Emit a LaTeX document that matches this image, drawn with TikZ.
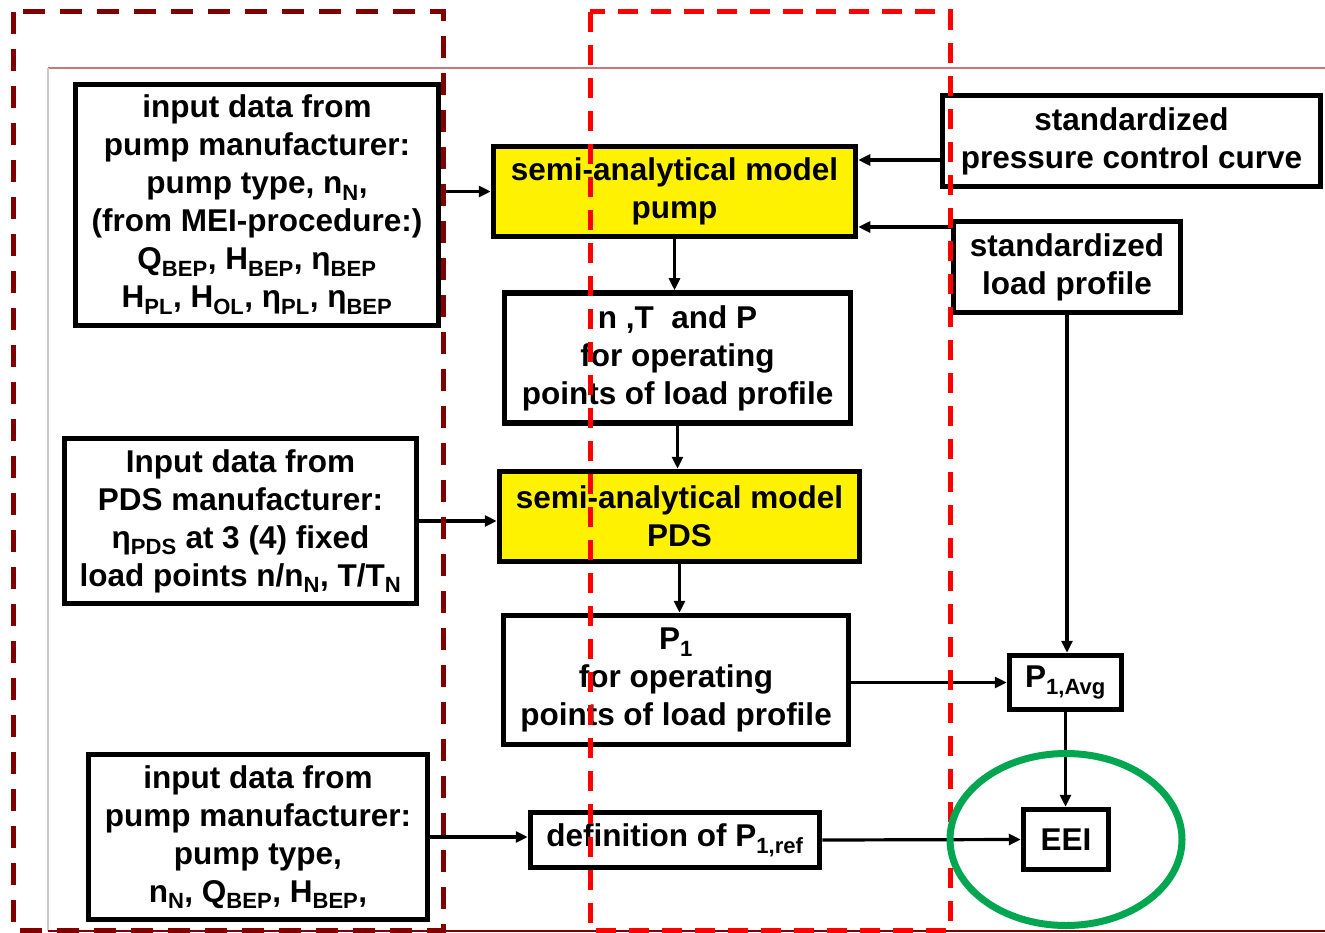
\documentclass[tikz,border=0pt]{standalone}
\usepackage{fontspec}
\setmainfont{Liberation Sans}
\usepackage{tikz}
\usetikzlibrary{arrows.meta}
\definecolor{darkframe}{RGB}{128,0,0}
\definecolor{ringgreen}{RGB}{0,166,80}
\definecolor{slideline}{RGB}{200,120,120}
\tikzstyle{Inputbox}=[shape=rectangle, fill=white, draw=black, line width=5.5pt, align=center, inner sep=0pt, text=black, font=\fontsize{31.5}{38}\selectfont\bfseries]
\tikzstyle{Modelbox}=[Inputbox, fill=yellow]
\tikzstyle{arrow}=[line width=3.2pt, -{Triangle[length=12pt,width=11pt]}]
\tikzstyle{zone}=[line width=5pt, dash pattern=on 22pt off 15pt]
\pgfdeclarelayer{boxlayer}
\pgfdeclarelayer{zonelayer}
\pgfsetlayers{boxlayer, main, zonelayer}

\begin{document}
\begin{tikzpicture}[x=1pt, y=-1pt]
	\useasboundingbox (0,0) rectangle (1325,933);
	\begin{pgfonlayer}{boxlayer}
		% slide frame
		\draw [draw=slideline, line width=2pt] (48,68) -- (1325,68);
		\draw [draw=black!20, line width=2pt] (48,68) -- (48,931);
		\draw [draw=darkframe, line width=2.5pt] (48,931) -- (1325,931);
		% manufacturer data
		\node [style=Inputbox, minimum width=363, minimum height=241] (pumpdata) at (257, 205) {input data from\\pump manufacturer:\\pump type, n\textsubscript{N},\\(from MEI-procedure:)\\Q\textsubscript{BEP}, H\textsubscript{BEP}, η\textsubscript{BEP}\\H\textsubscript{PL}, H\textsubscript{OL}, η\textsubscript{PL}, η\textsubscript{BEP}};
		\node [style=Inputbox, minimum width=352, minimum height=165] (pdsdata) at (240.5, 521) {Input data from\\PDS manufacturer:\\η\textsubscript{PDS} at 3 (4) fixed\\load points n/n\textsubscript{N}, T/T\textsubscript{N}};
		\node [style=Inputbox, minimum width=339, minimum height=165] (refdata) at (258, 837) {input data from\\pump manufacturer:\\pump type,\\n\textsubscript{N}, Q\textsubscript{BEP}, H\textsubscript{BEP},};
		% models and results
		\node [style=Modelbox, minimum width=362, minimum height=90] (pumpmodel) at (674.5, 191.5) {semi-analytical model\\pump};
		\node [style=Inputbox, minimum width=346, minimum height=130] (opoints) at (677.5, 358) {n ,T\ \ and P\\for operating\\points of load profile};
		\node [style=Modelbox, minimum width=360, minimum height=90] (pdsmodel) at (679.5, 516.5) {semi-analytical model\\PDS};
		\node [style=Inputbox, minimum width=345, minimum height=129] (powerpoints) at (676, 680) {P\textsubscript{1}\\for operating\\points of load profile};
		\node [style=Inputbox, minimum width=289, minimum height=55] (powerref) at (675, 840) {definition of P\textsubscript{1,ref}};
		% standardized inputs
		\node [style=Inputbox, minimum width=378, minimum height=91] (pressure) at (1131.5, 141) {standardized\\pressure control curve};
		\node [style=Inputbox, minimum width=227, minimum height=91] (loadprofile) at (1067, 267) {standardized\\load profile};
		\node [style=Inputbox, minimum width=112, minimum height=54] (poweravg) at (1065.5, 682.5) {P\textsubscript{1,Avg}};
		\node [style=Inputbox, minimum width=85, minimum height=60] (eei) at (1066, 839.5) {EEI};
	\end{pgfonlayer}

	\draw [style=arrow] (pumpdata.east |- pumpmodel.west) to (pumpmodel.west);
	\draw [style=arrow] ([yshift=-19pt]pressure.west) to ([yshift=-19pt]pressure.west -| pumpmodel.east);
	\draw [style=arrow] ([yshift=40pt]loadprofile.west) to ([yshift=40pt]loadprofile.west -| pumpmodel.east);
	\draw [style=arrow] (pumpmodel.south) to (pumpmodel.south |- opoints.north);
	\draw [style=arrow] (opoints.south) to (opoints.south |- pdsmodel.north);
	\draw [style=arrow] (pdsdata.east) to (pdsdata.east -| pdsmodel.west);
	\draw [style=arrow] (pdsmodel.south) to (pdsmodel.south |- powerpoints.north);
	\draw [style=arrow] (loadprofile.south) to (loadprofile.south |- poweravg.north);
	\draw [style=arrow] (poweravg.west -| powerpoints.east) to (poweravg.west);
	\draw [style=arrow] (poweravg.south) to (poweravg.south |- eei.north);
	\draw [style=arrow] (refdata.east) to (refdata.east -| powerref.west);
	\draw [style=arrow] (powerref.east) to (eei.west);

	\begin{pgfonlayer}{zonelayer}
		% highlighted zones
		\draw [style=zone, draw=darkframe] (13,12) rectangle (443,930);
		\draw [style=zone, draw=red, dash pattern=on 20pt off 13pt] (590,12) rectangle (950,930);
		\draw [draw=ringgreen, line width=7pt] (eei) ellipse [x radius=116pt, y radius=86pt];
	\end{pgfonlayer}
\end{tikzpicture}
\end{document}
